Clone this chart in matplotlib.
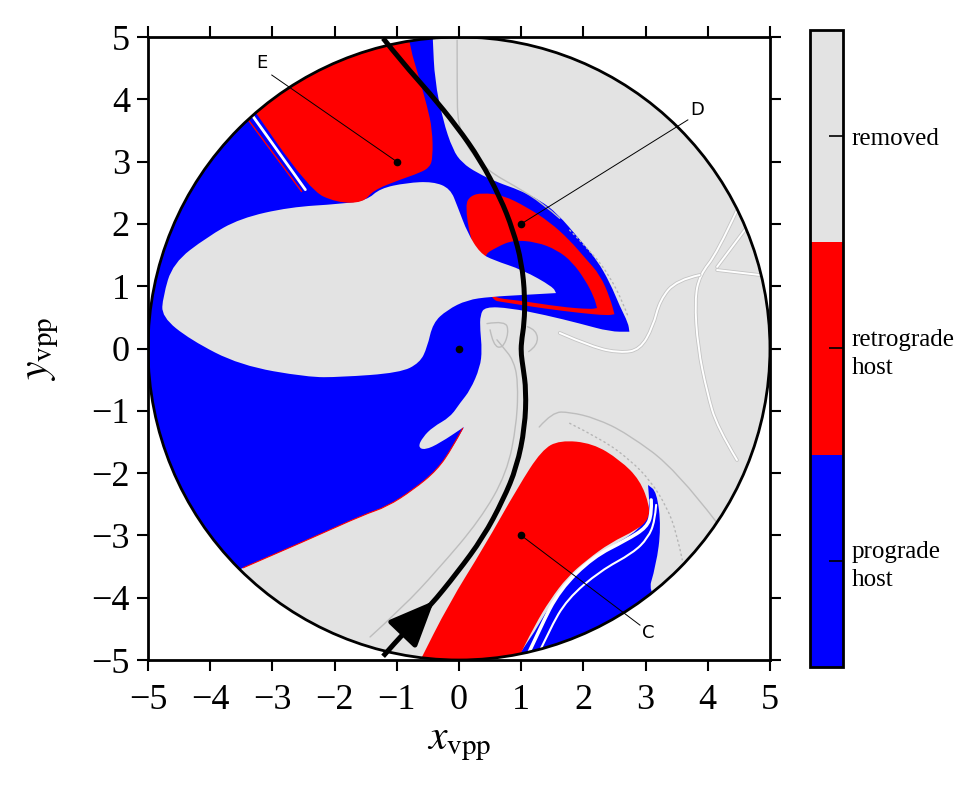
import numpy as np
import matplotlib
matplotlib.use('Agg')
import matplotlib.pyplot as plt
from matplotlib.patches import PathPatch, Circle
from matplotlib.path import Path
from matplotlib.colors import ListedColormap, BoundaryNorm
import matplotlib.cm as cm

plt.rcParams['font.family'] = ['Liberation Serif', 'DejaVu Serif']
plt.rcParams['mathtext.fontset'] = 'stix'

# ---------------- data ----------------
categories = ['prograde\nhost', 'retrograde\nhost', 'removed']
cat_colors = ['#0000ff', '#ff0000', '#e3e3e3']
domain_radius = 5.0

# prograde (blue) main region boundary (x, y)
prograde_main = [(-0.42, 6.0), (-0.42, 4.95), (-0.39, 4.31), (-0.26, 3.67), (-0.10, 3.19),
                 (0.05, 2.98), (0.29, 2.82), (0.61, 2.67), (0.98, 2.54), (1.30, 2.38),
                 (1.58, 2.17), (1.95, 1.74), (2.22, 1.42), (2.43, 1.05), (2.59, 0.67),
                 (2.72, 0.41), (2.74, 0.27), (2.43, 0.27), (1.95, 0.40), (1.38, 0.54),
                 (0.82, 0.65), (0.42, 0.67), (0.34, 0.54), (0.34, 0.30), (0.37, -0.02),
                 (0.34, -0.30), (0.18, -0.67), (0.02, -0.87), (-0.14, -1.10), (-0.42, -1.26),
                 (-0.58, -1.42), (-0.66, -1.58), (-0.55, -1.63), (-0.31, -1.52), (0.08, -1.26),
                 (-0.10, -1.58), (-0.35, -1.95), (-0.74, -2.27), (-1.16, -2.54), (-1.54, -2.67),
                 (-2.36, -3.04), (-3.47, -3.52), (-4.2, -3.9), (-7.0, -3.9), (-7.0, 6.0)]
prograde_main_sharp = [0, 1, 16, 34, 41, 42, 43, 44]

# removed (gray) lobe inside the prograde region
removed_lobe = [(-4.76, 0.83), (-4.60, 1.37), (-4.05, 1.79), (-3.52, 2.09), (-2.72, 2.27),
                (-1.91, 2.32), (-1.48, 2.38), (-1.27, 2.57), (-0.84, 2.66), (-0.42, 2.68),
                (-0.14, 2.57), (-0.02, 2.27), (0.14, 1.85), (0.34, 1.53), (0.55, 1.42),
                (1.03, 1.26), (1.51, 0.99), (1.56, 0.89), (1.03, 0.86), (0.50, 0.83),
                (0.13, 0.78), (-0.19, 0.62), (-0.42, 0.41), (-0.51, 0.02), (-0.63, -0.23),
                (-0.95, -0.39), (-1.91, -0.46), (-2.44, -0.46), (-3.52, -0.27), (-4.32, 0.14),
                (-4.78, 0.51)]
removed_lobe_sharp = [17]

# retrograde region E
retro_E = [(-3.52, 4.15), (-2.40, 2.54), (-1.96, 2.34), (-1.54, 2.34), (-1.38, 2.54),
           (-0.95, 2.71), (-0.63, 2.82), (-0.47, 2.91), (-0.42, 3.07), (-0.43, 3.52),
           (-0.51, 3.88), (-0.63, 4.31), (-0.79, 4.84), (-0.85, 5.3), (-3.0, 5.5)]
retro_E_sharp = [0, 13, 14]

# retrograde crescent D
retro_D = [(0.10, 2.30), (0.18, 2.45), (0.37, 2.50), (0.71, 2.46), (1.09, 2.27),
           (1.46, 2.03), (1.78, 1.74), (2.03, 1.45), (2.27, 1.18), (2.43, 0.81),
           (2.50, 0.55), (2.38, 0.53), (1.95, 0.57), (1.38, 0.64), (0.74, 0.74),
           (0.50, 0.78), (0.31, 1.50), (0.18, 1.77)]
retro_D_sharp = [10]

# prograde band inside crescent D
prograde_D_inner = [(0.37, 1.48), (0.61, 1.63), (0.87, 1.74), (1.25, 1.71), (1.58, 1.58),
                    (1.82, 1.39), (2.03, 1.10), (2.17, 0.83), (2.22, 0.65), (2.11, 0.63),
                    (1.62, 0.67), (0.98, 0.77), (0.58, 0.81), (0.42, 0.94)]
prograde_D_inner_sharp = [8]

# prograde region below C
prograde_C = [(0.66, -5.32), (1.14, -4.68), (1.46, -4.12), (1.86, -3.64), (2.35, -3.23),
              (2.91, -2.91), (3.07, -2.59), (3.04, -2.19), (3.18, -2.30), (3.25, -2.87),
              (3.17, -3.48), (3.01, -4.01), (4.20, -4.84), (2.27, -5.96)]
prograde_C_sharp = [0, 7, 12, 13]

# retrograde region C
retro_C = [(-0.66, -5.08), (-0.16, -4.09), (0.40, -3.19), (0.95, -2.22), (1.33, -1.63),
           (1.62, -1.47), (2.15, -1.52), (2.59, -1.79), (2.91, -2.11), (3.07, -2.54),
           (3.04, -2.75), (2.86, -2.91), (2.43, -3.12), (2.06, -3.39), (1.74, -3.67),
           (1.46, -4.04), (1.22, -4.44), (0.90, -5.08), (0.2, -5.5)]
retro_C_sharp = [0, 17, 18]

# thin white gaps next to C and E
gap_C1 = [(1.01, -5.13), (1.30, -4.49), (1.62, -3.87), (2.15, -3.35), (2.70, -3.07),
          (3.02, -2.87), (3.10, -2.64), (3.09, -2.43)]
gap_C2 = [(1.17, -5.13), (1.45, -4.52), (1.74, -4.02), (2.27, -3.57), (2.80, -3.28),
          (3.04, -3.04), (3.15, -2.77), (3.17, -2.51)]
gap_E = [(-3.40, 3.85), (-2.47, 2.55)]
red_edge_E = [(-3.47, 3.78), (-2.53, 2.52)]

# faint contour curves in the removed region
white_curves = [
    [(4.47, 2.22), (4.15, 1.53), (3.87, 1.18), (3.79, 0.78), (3.84, 0.02), (3.99, -0.71),
     (4.15, -1.26), (4.47, -1.79)],
    [(3.87, 1.18), (3.50, 1.10), (3.23, 0.78), (3.12, 0.35), (2.91, -0.02), (2.59, -0.07),
     (2.15, 0.02), (1.62, 0.25)],
    [(4.15, 1.26), (4.84, 1.18)],
    [(4.63, 1.95), (4.15, 1.31)],
]
gray_curves = [
    [(1.29, -1.26), (1.50, -1.02), (1.78, -1.02), (2.2, -1.12), (2.70, -1.36), (3.50, -1.95),
     (4.15, -2.80)],
    [(-1.43, -4.63), (-0.90, -4.15), (-0.35, -3.56), (0.34, -2.75), (0.77, -2.00),
     (0.93, -1.20), (0.95, -0.51), (0.87, -0.18), (0.71, 0.02), (0.61, 0.14)],
    [(-0.03, 4.95), (-0.03, 4.15), (-0.02, 3.62), (0.13, 3.23), (0.45, 2.86), (0.93, 2.59),
     (1.35, 2.33), (1.62, 2.09)],
    [(0.45, 0.40), (0.75, 0.45), (0.80, 0.25), (0.70, 0.0), (0.55, 0.05), (0.50, 0.30)],
    [(1.10, 0.35), (1.25, 0.30), (1.27, 0.05), (1.12, -0.05)],
]
dotted_curves = [
    [(1.78, -1.20), (2.32, -1.47), (2.75, -1.79), (3.07, -2.11), (3.34, -2.54), (3.50, -2.96),
     (3.59, -3.39)],
    [(1.78, 1.90), (2.15, 1.53), (2.43, 1.15), (2.64, 0.73), (2.72, 0.51)],
]
red_edge_low = [(0.06, -1.28), (-0.10, -1.58), (-0.35, -1.95), (-0.74, -2.27), (-1.16, -2.54),
                (-1.54, -2.67), (-2.36, -3.04), (-3.47, -3.52)]

# trajectory
traj_x = [-1.22, -0.90, -0.47, -0.03, 0.34, 0.66, 0.87, 1.01, 1.06, 1.05, 1.00, 1.00, 1.03,
          1.08, 1.06, 0.93, 0.71, 0.39, -0.03, -0.47, -0.84, -1.22]
traj_y = [4.98, 4.58, 4.10, 3.56, 3.03, 2.43, 1.90, 1.37, 0.83, 0.41, 0.09, -0.10, -0.30,
          -0.67, -1.26, -1.90, -2.43, -3.03, -3.60, -4.14, -4.51, -4.94]
arrow_tail = (-0.84, -4.51)
arrow_tip = (-0.40, -4.05)

# marked points
pts_x = [0, -1, 1, 1]
pts_y = [0, 3, 2, -3]
point_labels = ['E', 'D', 'C']
label_pts = [(-1, 3), (1, 2), (1, -3)]
label_line_end = [(-3.01, 4.39), (3.68, 3.67), (2.91, -4.44)]
label_pos = [(-3.17, 4.58), (3.83, 3.83), (3.04, -4.57)]
ticks = [-5, -4, -3, -2, -1, 0, 1, 2, 3, 4, 5]


# ---------------- helpers ----------------
def smooth_path(pts, closed=True, sharp=()):
    """Quadratic B-spline style path through the outline (sharp vertices kept)."""
    v = []
    for i, p in enumerate(pts):
        v.append(p)
        if i in sharp:
            v.append(p)
    v = np.asarray(v, float)
    n = len(v)
    verts, codes = [], []
    if closed:
        start = (v[-1] + v[0]) / 2
        verts.append(start); codes.append(Path.MOVETO)
        for i in range(n):
            m = (v[i] + v[(i + 1) % n]) / 2
            verts += [v[i], m]; codes += [Path.CURVE3, Path.CURVE3]
        verts.append(start); codes.append(Path.CLOSEPOLY)
    else:
        verts.append(v[0]); codes.append(Path.MOVETO)
        for i in range(1, n - 1):
            m = (v[i] + v[i + 1]) / 2 if i < n - 2 else v[i + 1]
            verts += [v[i], m]; codes += [Path.CURVE3, Path.CURVE3]
        if n == 2:
            verts.append(v[1]); codes.append(Path.LINETO)
    return Path(verts, codes)


# ---------------- plot ----------------
fig = plt.figure(figsize=(9.75, 7.93), dpi=100)
ax = fig.add_axes([0.1518, 0.1677, 0.6379, 0.7856])
ax.set_xlim(-5, 5)
ax.set_ylim(-5, 5)

blue, red, gray = cat_colors
bg = Circle((0, 0), domain_radius, facecolor=gray, edgecolor='none', zorder=1)
ax.add_patch(bg)


def poly(pts, color, z, sharp=()):
    p = PathPatch(smooth_path(pts, True, sharp), facecolor=color, edgecolor='none', zorder=z)
    ax.add_patch(p)
    p.set_clip_path(bg)


def curve(pts, color, lw, z, ls='-'):
    p = PathPatch(smooth_path(pts, False), facecolor='none', edgecolor=color, lw=lw,
                  ls=ls, zorder=z, capstyle='round')
    ax.add_patch(p)
    p.set_clip_path(bg)


poly(prograde_main, blue, 2, prograde_main_sharp)
poly(retro_D, red, 3, retro_D_sharp)
poly(prograde_D_inner, blue, 4, prograde_D_inner_sharp)
poly(removed_lobe, gray, 5, removed_lobe_sharp)
poly(retro_E, red, 6, retro_E_sharp)
poly(prograde_C, blue, 6, prograde_C_sharp)
poly(retro_C, red, 7, retro_C_sharp)

curve(gap_C1, 'white', 2.5, 8)
curve(gap_C2, 'white', 1.5, 8)
curve(gap_E, 'white', 2.0, 8)
curve(red_edge_E, red, 1.0, 8)
curve(red_edge_low, red, 0.8, 3)
for c in white_curves:
    curve(c, '#c4c4c4', 2.6, 2)
    curve(c, 'white', 1.4, 2)
for c in gray_curves:
    curve(c, '#bdbdbd', 1.0, 2)
for c in dotted_curves:
    curve(c, '#b5b5b5', 1.0, 2, ls=(0, (1, 2.5)))

ax.add_patch(Circle((0, 0), domain_radius, facecolor='none', edgecolor='black', lw=2, zorder=9))

traj = PathPatch(smooth_path(list(zip(traj_x, traj_y)), False), facecolor='none',
                 edgecolor='black', lw=3.6, zorder=10, capstyle='butt')
ax.add_patch(traj)
ax.annotate('', xy=arrow_tip, xytext=arrow_tail,
            arrowprops=dict(arrowstyle='-|>,head_length=1.4,head_width=0.6', lw=3.6,
                            color='black', shrinkA=0, shrinkB=0, mutation_scale=20), zorder=11)

ax.plot(pts_x, pts_y, 'o', color='black', ms=4.5, zorder=12)
for lab, p0, p1, tp in zip(point_labels, label_pts, label_line_end, label_pos):
    ax.plot([p0[0], p1[0]], [p0[1], p1[1]], color='black', lw=0.7, zorder=12)
    ax.text(tp[0], tp[1], lab, fontsize=13, family='DejaVu Sans', ha='center', va='center',
            zorder=12)

ax.set_xticks(ticks)
ax.set_yticks(ticks)
ax.tick_params(direction='out', length=8, width=1.5, top=True, right=True, labelsize=26)
ax.tick_params(axis='x', pad=9)
ax.tick_params(axis='y', pad=5)
for s in ax.spines.values():
    s.set_linewidth(2)
ax.set_xlabel(r'$x_{\mathrm{vpp}}$', fontsize=30, labelpad=6)
ax.set_ylabel(r'$y_{\mathrm{vpp}}$', fontsize=30, labelpad=22)

cax = fig.add_axes([0.8308, 0.1589, 0.0338, 0.8033])
cmap = ListedColormap(cat_colors)
norm = BoundaryNorm([0, 1, 2, 3], 3)
cb = fig.colorbar(cm.ScalarMappable(norm=norm, cmap=cmap), cax=cax, ticks=[0.5, 1.5, 2.5])
cb.set_ticklabels(categories)
cb.minorticks_off()
cax.tick_params(direction='in', length=10, width=1.2, labelsize=18, pad=6)
for lbl in cax.get_yticklabels():
    lbl.set_linespacing(1.35)
cb.outline.set_linewidth(2)

fig.savefig('out.png', dpi=100)
